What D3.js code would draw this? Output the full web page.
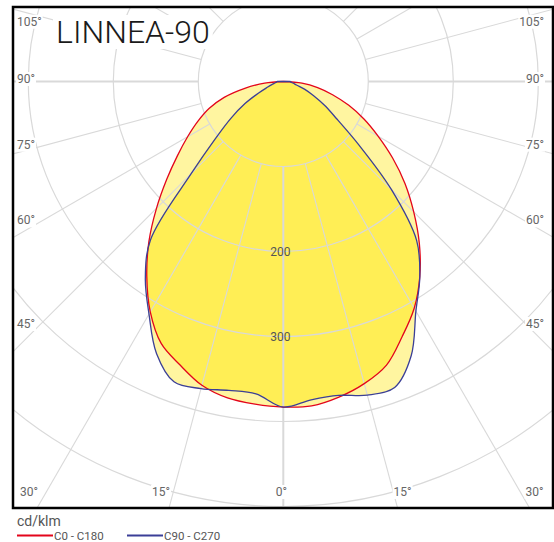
<!DOCTYPE html>
<html><head><meta charset="utf-8">
<script src="https://cdn.jsdelivr.net/npm/d3@7"></script>
<style>html,body{margin:0;padding:0;background:#fff;overflow:hidden}</style>
</head><body>
<svg id="c" width="554" height="542"></svg>
<script>
// ---- data (cd/klm) ----
const title = "LINNEA-90";
const unit = "cd/klm";
const angles   = [0,5,10,15,20,25,30,35,40,45,50,55,60,65,70,75,80,85,90];
const c0Right  = [383,383,377,368,355,331,308,280,249,217,187,157,129,105,82,60,41,22,0];
const c180Left = [383,381,378,370,355,340,313,280,246,211,179,152,130,111,93,72,46,22,0];
const c90Right = [383,376,375,382,383,356,312,280,244,180,116,77,56,39,27,16,12,9,8];
const c270Left = [383,369,369,374,376,353,316,283,243,153,104,75,52,32,20,14,10,8,7];
const ringValues = [100,200,300,400,500,600];
const ringLabelValues = [200,300];
const radialAngles = d3.range(0,360,15);
const sideAngleLabels = [45,60,75,90,105];
const bottomAngleLabels = [0,15,30];
const legendItems = [
  {name:"C0 - C180", color:"#e3051b"},
  {name:"C90 - C270", color:"#3b3f97"}
];

// ---- layout ----
const W=554,H=542;
const frame={x0:13,y0:7,x1:553,y1:508};
const cx=283.3, cy=81.5;
const r=d3.scaleLinear().domain([0,100]).range([0,85]);
const rad=d=>d*Math.PI/180;
const svg=d3.select("#c");
const defs=svg.append("defs");
defs.append("clipPath").attr("id","frameClip").append("rect")
  .attr("x",frame.x0).attr("y",frame.y0).attr("width",frame.x1-frame.x0).attr("height",frame.y1-frame.y0);

function pts(left,right){
  const p=[];
  for(let i=angles.length-1;i>=0;i--){const a=rad(angles[i]);p.push([cx-r(left[i])*Math.sin(a),cy+r(left[i])*Math.cos(a)]);}
  for(let i=1;i<angles.length;i++){const a=rad(angles[i]);p.push([cx+r(right[i])*Math.sin(a),cy+r(right[i])*Math.cos(a)]);}
  return p;
}
const line=d3.line().curve(d3.curveCatmullRom.alpha(0.5));
const redPath=line(pts(c180Left,c0Right))+"Z";
const bluePath=line(pts(c270Left,c90Right))+"Z";

defs.append("clipPath").attr("id","redClip").append("path").attr("d",redPath);

const g=svg.append("g").attr("clip-path","url(#frameClip)");
// fills
g.append("path").attr("d",redPath).attr("fill","#fff5a0");
g.append("path").attr("d",bluePath).attr("fill","#fff5a0");
g.append("path").attr("d",bluePath).attr("fill","#ffee55").attr("clip-path","url(#redClip)");

// grid
const grid=g.append("g").attr("fill","none").attr("stroke","#d9d9d9");
grid.selectAll("circle").data(ringValues).join("circle")
  .attr("cx",cx).attr("cy",cy).attr("r",d=>r(d)).attr("stroke-width",1.2);
grid.selectAll("line").data(radialAngles).join("line")
  .attr("x1",d=>cx+r(100)*Math.sin(rad(d))).attr("y1",d=>cy+r(100)*Math.cos(rad(d)))
  .attr("x2",d=>cx+r(900)*Math.sin(rad(d))).attr("y2",d=>cy+r(900)*Math.cos(rad(d)))
  .attr("stroke-width",d=>d%90===0?2:1.1);

// curves
g.append("path").attr("d",redPath).attr("fill","none").attr("stroke",legendItems[0].color).attr("stroke-width",1.3);
g.append("path").attr("d",bluePath).attr("fill","none").attr("stroke",legendItems[1].color).attr("stroke-width",1.3);

// ring labels
g.selectAll("text.ring").data(ringLabelValues).join("text").attr("class","ring")
  .attr("x",cx-3).attr("y",d=>cy+r(d)+0.5).attr("text-anchor","middle").attr("dominant-baseline","central")
  .attr("font-family","Roboto, sans-serif").attr("font-size",12).attr("fill","#555").text(d=>d);

// angle labels with white backgrounds
const lab=g.append("g").attr("font-family","Roboto, sans-serif").attr("font-size",12).attr("fill","#666");
function addLabel(x,y,anchor,txt){
  const t=lab.append("text").attr("x",x).attr("y",y).attr("text-anchor",anchor)
    .attr("dominant-baseline","central").text(txt);
  const b=t.node().getBBox();
  lab.insert("rect","text").attr("x",b.x-1).attr("y",b.y).attr("width",b.width+2).attr("height",b.height).attr("fill","#fff");
}
sideAngleLabels.forEach(a=>{
  let y=cy+245*Math.cos(rad(a))/Math.sin(rad(a))-2.5;
  y=Math.max(y,21.7);
  addLabel(17,y,"start",a+"°");
  addLabel(544,y,"end",a+"°");
});
bottomAngleLabels.forEach(a=>{
  const dx=(frame.y1-cy)*Math.tan(rad(a));
  if(a===0){addLabel(cx-2,492,"middle",a+"°");return;}
  addLabel(cx-dx-8,492,"middle",a+"°");
  addLabel(cx+dx+5,492,"middle",a+"°");
});

// title
const tt=g.append("text").attr("x",56).attr("y",43).attr("font-family","Roboto, sans-serif")
  .attr("font-weight",300).attr("font-size",32).attr("fill","#1a1a1a").text(title);
const tb=tt.node().getBBox();
g.insert("rect","text").attr("x",tb.x-3).attr("y",tb.y+2).attr("width",tb.width+6).attr("height",tb.height-4).attr("fill","#fff");
tt.raise();

// frame
svg.append("rect").attr("x",frame.x0).attr("y",frame.y0).attr("width",frame.x1-frame.x0).attr("height",frame.y1-frame.y0)
  .attr("fill","none").attr("stroke","#000").attr("stroke-width",2.5);

// legend
svg.append("text").attr("x",17).attr("y",526).attr("font-family","Roboto, sans-serif").attr("font-size",14)
  .attr("fill","#555").text(unit);
const lg=svg.append("g");
const legX=[17,127];
legendItems.forEach((d,i)=>{
  lg.append("line").attr("x1",legX[i]).attr("x2",legX[i]+36).attr("y1",535.5).attr("y2",535.5)
    .attr("stroke",d.color).attr("stroke-width",2);
  lg.append("text").attr("x",legX[i]+37).attr("y",539.5)
    .attr("font-family","Roboto, sans-serif").attr("font-size",11.5)
    .attr("fill","#555").text(d.name);
});
</script>
</body></html>
